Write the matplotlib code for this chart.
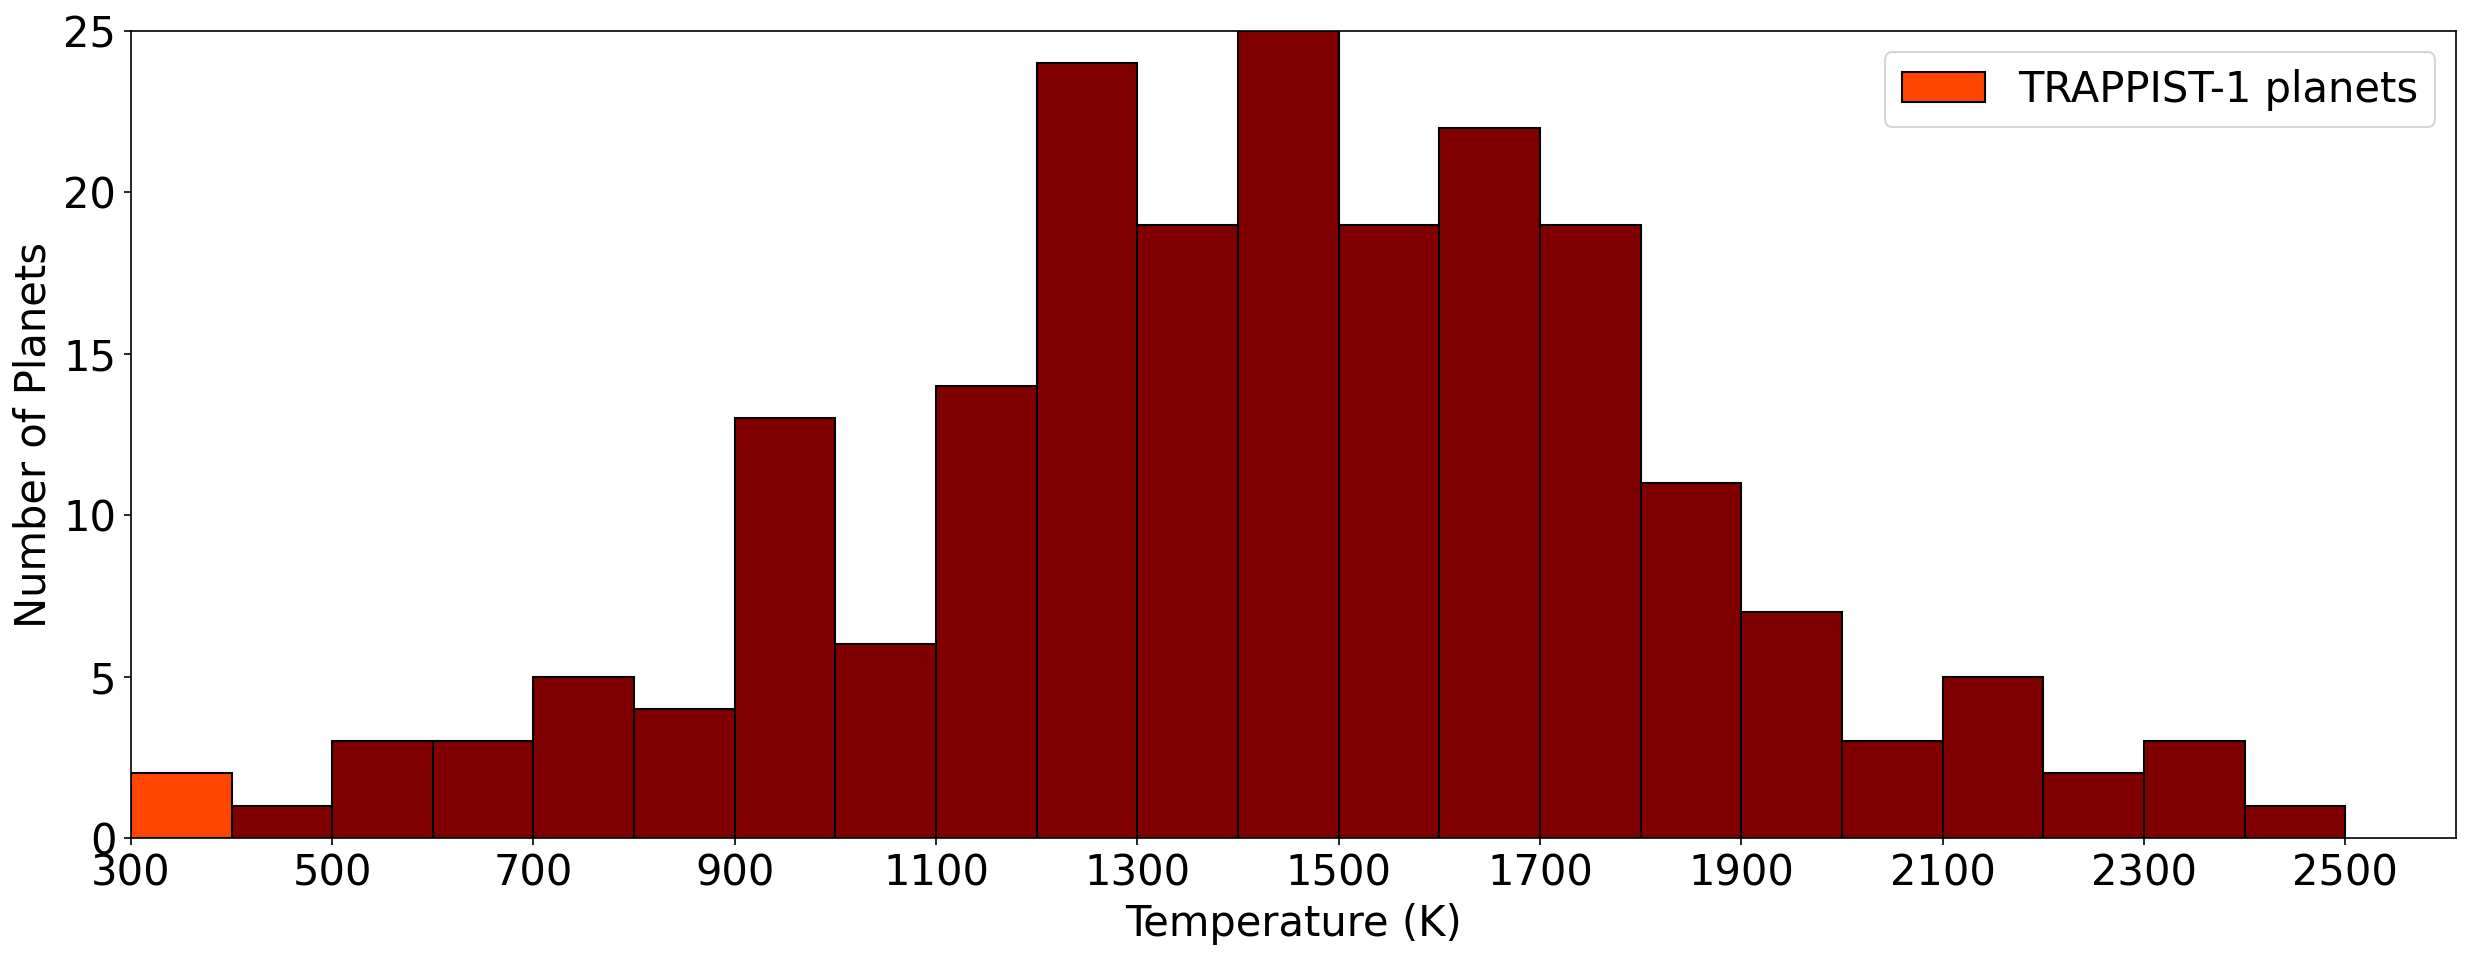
"""Histogram of planet equilibrium temperatures, TRAPPIST-1 bin highlighted."""

import matplotlib

matplotlib.use("Agg")
import matplotlib.pyplot as plt

# bin left edges (K) and counts
bin_edges = list(range(300, 2600, 100))
counts = [2, 1, 3, 3, 5, 4, 13, 6, 14, 24, 19, 25, 19, 22, 19, 11, 7, 3, 5, 2, 3, 1]
trappist_bins = 1  # first bin holds the TRAPPIST-1 planets

bin_width = 100
xticks = list(range(300, 2600, 200))

plt.rcParams["font.size"] = 20

fig, ax = plt.subplots(figsize=(2479 / 150, 958 / 150), dpi=150)
fig.subplots_adjust(left=0.0528, right=0.9907, top=0.9676, bottom=0.1253)

ax.bar(
    bin_edges[trappist_bins:-1],
    counts[trappist_bins:],
    width=bin_width,
    align="edge",
    color="#800000",
    edgecolor="black",
    linewidth=1.0,
)
ax.bar(
    bin_edges[:trappist_bins],
    counts[:trappist_bins],
    width=bin_width,
    align="edge",
    color="#FF4500",
    edgecolor="black",
    linewidth=1.0,
    label="TRAPPIST-1 planets",
)

ax.set_xlim(300, 2610)
ax.set_ylim(0, 25)
ax.set_xticks(xticks)
ax.set_xlabel("Temperature (K)")
ax.set_ylabel("Number of Planets")
ax.legend(loc="upper right")

fig.savefig("out.png", dpi=150)
